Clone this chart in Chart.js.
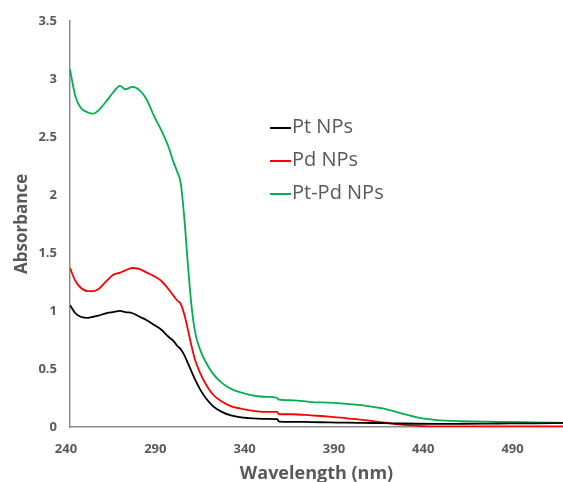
<!DOCTYPE html>
<html>
<head>
<meta charset="utf-8">
<script src="https://cdn.jsdelivr.net/npm/chart.js@4/dist/chart.umd.min.js"></script>
<style>
  html, body { margin: 0; padding: 0; background: #fff; }
  #wrap { width: 563px; height: 482px; }
</style>
</head>
<body>
<div id="wrap"><canvas id="absChart"></canvas></div>
<script>
// wavelengths (nm) shared by all three spectra
const wavelengths = [240, 243, 246, 250, 253, 256, 260, 264, 268, 271, 275, 279, 283, 287, 291, 295, 298, 300, 302, 304, 306, 308, 310, 313, 316, 320, 325, 330, 335, 340, 345, 350, 356, 357, 365, 375, 385, 395, 405, 415, 425, 435, 445, 460, 480, 500, 516];

const ptNPs = [1.05, 0.98, 0.95, 0.94, 0.95, 0.96, 0.98, 0.99, 1.00, 0.99, 0.98, 0.95, 0.92, 0.88, 0.84, 0.78, 0.74, 0.70, 0.67, 0.62, 0.55, 0.48, 0.41, 0.32, 0.25, 0.18, 0.13, 0.10, 0.085, 0.077, 0.072, 0.07, 0.068, 0.047, 0.045, 0.042, 0.04, 0.037, 0.035, 0.033, 0.03, 0.028, 0.027, 0.028, 0.03, 0.032, 0.035];

const pdNPs = [1.37, 1.26, 1.20, 1.17, 1.17, 1.19, 1.25, 1.31, 1.33, 1.35, 1.37, 1.36, 1.33, 1.30, 1.26, 1.19, 1.13, 1.09, 1.06, 0.97, 0.84, 0.70, 0.58, 0.46, 0.37, 0.28, 0.22, 0.18, 0.16, 0.145, 0.135, 0.13, 0.13, 0.11, 0.11, 0.10, 0.09, 0.075, 0.06, 0.04, 0.02, 0.01, 0.005, 0.005, 0.005, 0.005, 0.005];

const ptPdNPs = [3.08, 2.85, 2.75, 2.71, 2.70, 2.73, 2.80, 2.88, 2.94, 2.91, 2.93, 2.90, 2.82, 2.68, 2.56, 2.42, 2.28, 2.20, 2.10, 1.80, 1.40, 1.05, 0.82, 0.66, 0.56, 0.46, 0.38, 0.33, 0.30, 0.28, 0.265, 0.26, 0.25, 0.235, 0.23, 0.215, 0.21, 0.20, 0.185, 0.16, 0.12, 0.08, 0.06, 0.05, 0.045, 0.04, 0.035];

const xTicks = [240, 290, 340, 390, 440, 490];
const yTicks = [0, 0.5, 1, 1.5, 2, 2.5, 3, 3.5];

const seriesNames = ["Pt NPs", "Pd NPs", "Pt-Pd NPs"];
const seriesColors = ["#000000", "#ff0000", "#00b050"];

const textGray = "#595959";
const axisGray = "#8c8c8c";

function toPoints(ys) {
  return wavelengths.map((x, i) => ({ x: x, y: ys[i] }));
}

// legend drawn inside the plot area, like the original
const innerLegend = {
  id: "innerLegend",
  afterDraw(chart) {
    const ctx = chart.ctx;
    const x0 = 270;
    const y0 = 127;
    const gap = 33;
    ctx.save();
    ctx.font = "20px 'Open Sans'";
    ctx.textBaseline = "middle";
    chart.data.datasets.forEach((ds, i) => {
      const y = y0 + i * gap;
      ctx.strokeStyle = ds.borderColor;
      ctx.lineWidth = 2;
      ctx.beginPath();
      ctx.moveTo(x0, y + 1);
      ctx.lineTo(x0 + 21, y + 1);
      ctx.stroke();
      ctx.fillStyle = textGray;
      ctx.fillText(ds.label, x0 + 22, y);
    });
    ctx.restore();
  },
};

const ctx = document.getElementById("absChart").getContext("2d");
new Chart(ctx, {
  type: "line",
  data: {
    datasets: [
      { label: seriesNames[0], data: toPoints(ptNPs), borderColor: seriesColors[0] },
      { label: seriesNames[1], data: toPoints(pdNPs), borderColor: seriesColors[1] },
      { label: seriesNames[2], data: toPoints(ptPdNPs), borderColor: seriesColors[2] },
    ],
  },
  options: {
    responsive: true,
    maintainAspectRatio: false,
    animation: false,
    layout: { padding: { top: 20, right: 0, left: 0, bottom: 0 } },
    elements: {
      point: { radius: 0 },
      line: { borderWidth: 1.8, cubicInterpolationMode: "monotone", fill: false },
    },
    plugins: {
      legend: { display: false },
      tooltip: { enabled: false },
    },
    scales: {
      x: {
        type: "linear",
        min: 240,
        max: 516,
        afterBuildTicks: (scale) => { scale.ticks = xTicks.map((v) => ({ value: v })); },
        afterFit: (scale) => { scale.height = 55; },
        grid: { display: false, drawTicks: false },
        border: { display: true, color: axisGray, width: 1.5 },
        ticks: {
          color: textGray,
          font: { family: "'Open Sans'", size: 13, weight: "bold" },
          padding: 14,
          labelOffset: -4,
          maxRotation: 0,
          autoSkip: false,
        },
        title: {
          display: true,
          text: "Wavelength (nm)",
          color: textGray,
          font: { family: "'Open Sans'", size: 18, weight: "bold" },
          padding: { top: 2, bottom: -3 },
        },
      },
      y: {
        min: 0,
        max: 3.5,
        afterBuildTicks: (scale) => { scale.ticks = yTicks.map((v) => ({ value: v })); },
        afterFit: (scale) => { scale.width = 70; },
        grid: { display: false, drawTicks: false },
        border: { display: true, color: axisGray, width: 1.5 },
        ticks: {
          color: textGray,
          font: { family: "'Open Sans'", size: 13, weight: "bold" },
          padding: 13,
          callback: (v) => String(v),
        },
        title: {
          display: true,
          text: "Absorbance",
          color: textGray,
          font: { family: "'Open Sans'", size: 17, weight: "bold" },
          padding: { top: 12, bottom: 6 },
        },
      },
    },
  },
  plugins: [innerLegend],
});
</script>
</body>
</html>
